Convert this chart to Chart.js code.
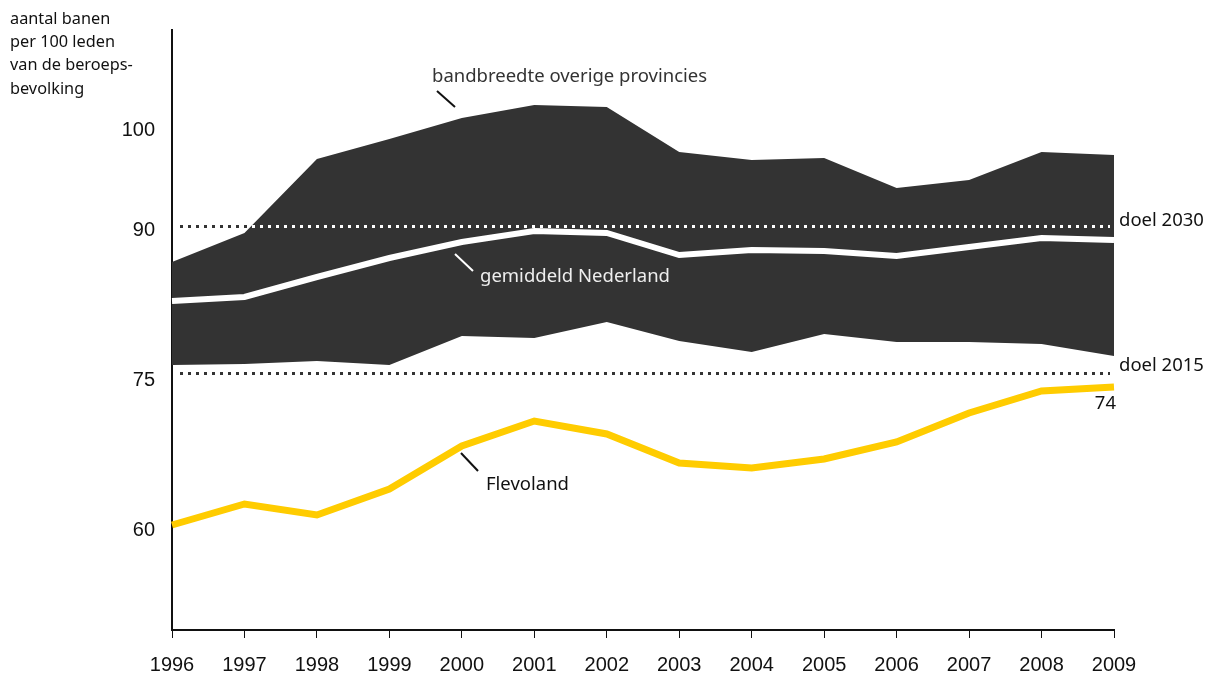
<!DOCTYPE html>
<html>
<head>
<meta charset="utf-8">
<script src="https://cdn.jsdelivr.net/npm/chart.js@4/dist/chart.umd.min.js"></script>
<style>
  body { margin: 0; background: #fff; }
  #chart { display: block; }
</style>
</head>
<body>
<canvas id="chart" width="1207" height="676"></canvas>
<script>
const years = ["1996", "1997", "1998", "1999", "2000", "2001", "2002", "2003", "2004", "2005", "2006", "2007", "2008", "2009"];
const bandUpper = [86.8, 89.7, 97.1, 99.1, 101.2, 102.5, 102.3, 97.8, 97.0, 97.2, 94.2, 95.0, 97.8, 97.5];
const bandLower = [76.5, 76.6, 76.9, 76.5, 79.4, 79.2, 80.8, 78.9, 77.8, 79.6, 78.8, 78.8, 78.6, 77.4];
const nederland = [82.9, 83.3, 85.3, 87.2, 88.8, 89.9, 89.7, 87.5, 88.0, 87.9, 87.4, 88.3, 89.2, 89.0];
const flevoland = [60.5, 62.6, 61.5, 64.1, 68.4, 70.9, 69.6, 66.7, 66.2, 67.1, 68.8, 71.7, 73.9, 74.3];
const yTicks = [60, 75, 90, 100];
const doel2030 = 90.4;
const doel2015 = 75.7;

const ctx = document.getElementById("chart").getContext("2d");

// chart.js draws the last dataset first, so the band sits at the end
const LOWER = 2, UPPER = 3;

function bandPath(chart) {
  const up = chart.getDatasetMeta(UPPER).data;
  const low = chart.getDatasetMeta(LOWER).data;
  const p = new Path2D();
  up.forEach((pt, i) => i ? p.lineTo(pt.x, pt.y) : p.moveTo(pt.x, pt.y));
  for (let i = low.length - 1; i >= 0; i--) p.lineTo(low[i].x, low[i].y);
  p.closePath();
  return p;
}

// dotted target lines: dark on white, white inside the band
const targetLines = {
  id: "targetLines",
  afterDatasetDraw(chart, args) {
    if (args.index !== LOWER) return;
    const c = chart.ctx;
    const y = chart.scales.y;
    const x0 = chart.chartArea.left + 8;
    const x1 = chart.chartArea.right - 4;
    const draw = () => {
      [doel2030, doel2015].forEach(v => {
        const py = Math.round(y.getPixelForValue(v)) + 0.5;
        c.beginPath();
        c.moveTo(x0, py);
        c.lineTo(x1, py);
        c.stroke();
      });
    };
    c.save();
    c.lineWidth = 3;
    c.setLineDash([3, 5]);
    c.strokeStyle = "#333333";
    draw();
    c.clip(bandPath(chart));
    c.strokeStyle = "#ffffff";
    draw();
    c.restore();
  }
};

const labels = {
  id: "labels",
  afterDraw(chart) {
    const c = chart.ctx;
    const y = chart.scales.y;
    c.save();
    c.textBaseline = "middle";
    c.textAlign = "left";

    c.font = "16.3px 'Noto Sans'";
    c.fillStyle = "#111";
    ["aantal banen", "per 100 leden", "van de beroeps-", "bevolking"].forEach((t, i) => {
      c.fillText(t, 10, 19 + i * 23.3);
    });

    c.font = "18.5px 'Noto Sans'";
    c.lineWidth = 2;

    c.strokeStyle = "#111";
    c.beginPath(); c.moveTo(437, 91); c.lineTo(455, 107); c.stroke();
    c.fillStyle = "#333";
    c.fillText("bandbreedte overige provincies", 432, 77);

    c.strokeStyle = "#fff";
    c.beginPath(); c.moveTo(455, 254); c.lineTo(473, 271); c.stroke();
    c.fillStyle = "#eeeeee";
    c.fillText("gemiddeld Nederland", 480, 277);

    c.strokeStyle = "#111";
    c.beginPath(); c.moveTo(461, 453); c.lineTo(478, 471); c.stroke();
    c.fillStyle = "#111";
    c.fillText("Flevoland", 486, 485);

    const right = chart.chartArea.right;
    c.fillText("doel 2030", right + 5, y.getPixelForValue(doel2030) - 5);
    c.fillText("doel 2015", right + 5, y.getPixelForValue(doel2015) - 7);
    c.textAlign = "right";
    c.fillText("74", right + 2, y.getPixelForValue(flevoland[flevoland.length - 1]) + 17);
    c.restore();
  }
};

new Chart(ctx, {
  type: "line",
  data: {
    labels: years,
    datasets: [
      {
        data: flevoland,
        borderColor: "#ffcc00",
        borderWidth: 7,
        borderJoinStyle: "miter",
        pointRadius: 0,
        fill: false
      },
      {
        data: nederland,
        borderColor: "#ffffff",
        borderWidth: 6,
        borderJoinStyle: "miter",
        pointRadius: 0,
        fill: false
      },
      {
        data: bandLower,
        borderWidth: 0,
        pointRadius: 0,
        fill: false
      },
      {
        data: bandUpper,
        borderWidth: 0,
        pointRadius: 0,
        backgroundColor: "#333333",
        fill: "-1"
      }
    ]
  },
  options: {
    responsive: false,
    animation: false,
    layout: { padding: { top: 30, right: 93, left: 0, bottom: 0 } },
    plugins: {
      legend: { display: false },
      tooltip: { enabled: false }
    },
    elements: { line: { tension: 0 } },
    scales: {
      x: {
        type: "category",
        offset: false,
        afterFit: (s) => { s.height = 46; },
        border: { display: true, color: "#111", width: 2 },
        grid: { display: true, drawOnChartArea: false, drawTicks: true, tickLength: 8, color: "#111", lineWidth: 1, offset: false },
        ticks: {
          color: "#111",
          font: { family: "'Liberation Sans'", size: 20 },
          padding: 15,
          maxRotation: 0,
          autoSkip: false
        }
      },
      y: {
        min: 50,
        max: 110,
        afterFit: (s) => { s.width = 172; },
        afterBuildTicks: (s) => { s.ticks = yTicks.map(v => ({ value: v })); },
        border: { display: true, color: "#111", width: 2 },
        grid: { display: false, drawTicks: false },
        ticks: {
          color: "#111",
          font: { family: "'Liberation Sans'", size: 20 },
          padding: 17
        }
      }
    }
  },
  plugins: [targetLines, labels]
});
</script>
</body>
</html>
